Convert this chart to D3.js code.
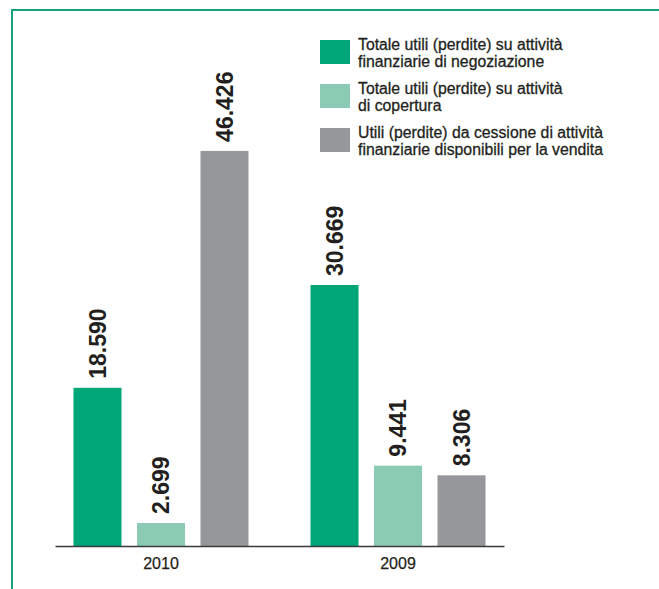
<!DOCTYPE html>
<html>
<head>
<meta charset="utf-8">
<script src="https://cdn.jsdelivr.net/npm/d3@7/dist/d3.min.js"></script>
<style>
  html, body { margin: 0; padding: 0; background: #fff; }
  svg { display: block; }
</style>
</head>
<body>
<svg id="chart" width="659" height="589"></svg>
<script>
// Years on the category axis
const years = ["2010", "2009"];

// Series values (thousands of euro)
const tradingResult = [18590, 30669];
const hedgingResult = [2699, 9441];
const disposalResult = [46426, 8306];

// Legend text, one entry per series, split into lines
const seriesLabels = [
  ["Totale utili (perdite) su attività", "finanziarie di negoziazione"],
  ["Totale utili (perdite) su attività", "di copertura"],
  ["Utili (perdite) da cessione di attività", "finanziarie disponibili per la vendita"]
];
const seriesKeys = ["trading", "hedging", "disposal"];
const seriesColors = ["#00a578", "#8bcbb4", "#96979b"];

const rows = years.map((y, i) => ({
  year: y,
  trading: tradingResult[i],
  hedging: hedgingResult[i],
  disposal: disposalResult[i]
}));

const it = d3.formatLocale({ decimal: ",", thousands: ".", grouping: [3], currency: ["€", ""] });
const fmt = it.format(",d");

const svg = d3.select("#chart");

// Frame: top and left rules
svg.append("path")
  .attr("d", "M12,589 V10 H659")
  .attr("fill", "none")
  .attr("stroke", "#17a27b")
  .attr("stroke-width", 2);

const axisY = 546;
const x0 = d3.scaleBand()
  .domain(years)
  .range([55, 504])
  .paddingInner(0.2616)
  .paddingOuter(0.078);

const x1 = d3.scaleBand()
  .domain(seriesKeys)
  .range([0, x0.bandwidth()])
  .paddingInner(0.244)
  .paddingOuter(0);

const y = d3.scaleLinear()
  .domain([0, 50000])
  .range([axisY, axisY - 425.5]);

const color = d3.scaleOrdinal().domain(seriesKeys).range(seriesColors);

const groups = svg.append("g")
  .selectAll("g")
  .data(rows)
  .join("g")
  .attr("transform", d => `translate(${x0(d.year)},0)`);

const bars = groups.selectAll("g")
  .data(d => seriesKeys.map(k => ({ key: k, value: d[k] })))
  .join("g");

bars.append("rect")
  .attr("x", d => x1(d.key))
  .attr("width", x1.bandwidth())
  .attr("y", d => y(d.value))
  .attr("height", d => y(0) - y(d.value))
  .attr("fill", d => color(d.key));

// Value labels, rotated, above each bar
bars.append("text")
  .attr("transform", d => `translate(${x1(d.key) + x1.bandwidth() / 2},${y(d.value) - 9}) rotate(-90)`)
  .attr("dy", "0.36em")
  .attr("text-anchor", "start")
  .attr("font-family", "'Liberation Sans Narrow', 'Arial Narrow', 'Liberation Sans', sans-serif")
  .attr("font-weight", "bold")
  .attr("font-size", 23)
  .attr("fill", "#231f20")
  .text(d => fmt(d.value));

// Category axis
const xAxis = d3.axisBottom(x0).tickSize(0).tickPadding(0);
const axisG = svg.append("g")
  .attr("transform", `translate(0,${axisY})`)
  .call(xAxis);
axisG.select(".domain")
  .attr("stroke", "#3a3a3a")
  .attr("stroke-width", 1.5);
axisG.selectAll(".tick text")
  .attr("y", 23)
  .attr("dy", 0)
  .attr("font-family", "'Liberation Sans', Arial, sans-serif")
  .attr("font-size", 16)
  .attr("fill", "#231f20")
  .attr("stroke", "#231f20")
  .attr("stroke-width", 0.25);

// Legend
const legend = svg.append("g")
  .selectAll("g")
  .data(seriesKeys)
  .join("g")
  .attr("transform", (d, i) => `translate(320,${40 + i * 44})`);

legend.append("rect")
  .attr("width", 30)
  .attr("height", 24)
  .attr("fill", d => color(d));

legend.append("text")
  .attr("x", 38)
  .attr("y", 10)
  .attr("font-family", "'Liberation Sans', Arial, sans-serif")
  .attr("font-size", 15.8)
  .attr("fill", "#231f20")
  .attr("stroke", "#231f20")
  .attr("stroke-width", 0.3)
  .selectAll("tspan")
  .data((d, i) => seriesLabels[i])
  .join("tspan")
  .attr("x", 38)
  .attr("dy", (d, j) => j === 0 ? 0 : 16.5)
  .text(d => d);
</script>
</body>
</html>
